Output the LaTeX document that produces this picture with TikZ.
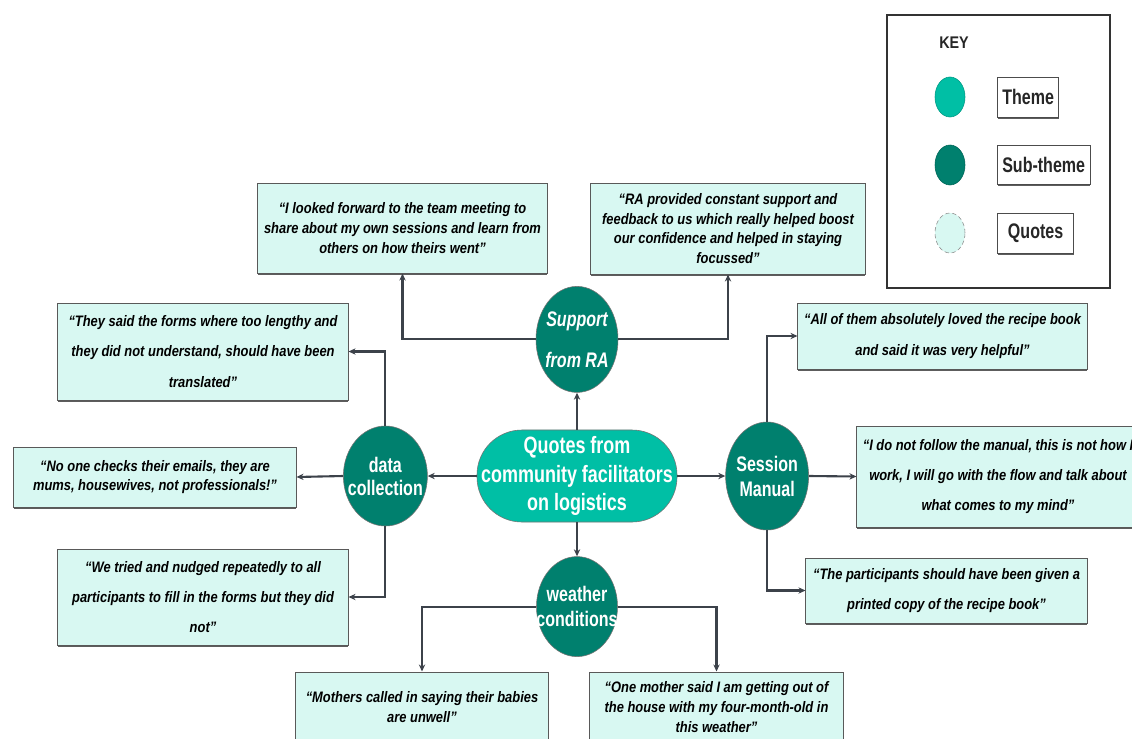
\documentclass[tikz,border=0pt]{standalone}
\usepackage{fontspec}
\setmainfont{Liberation Sans}
\newfontfamily\narrowsans[FakeStretch=0.85]{Liberation Sans}
\newfontfamily\tallsans[FakeStretch=0.76]{Liberation Sans}
\usepackage{tikz}
\usetikzlibrary{arrows.meta, positioning, shadows, shapes.geometric}
\definecolor{themeteal}{RGB}{0,191,165}
\definecolor{subteal}{RGB}{0,128,110}
\definecolor{quotefill}{RGB}{216,248,242}
\definecolor{linkgray}{RGB}{60,66,74}
\newcommand{\zw}[1]{\makebox[0pt]{#1}}

\begin{document}
\begin{tikzpicture}[
        x=0.025cm, y=-0.025cm,
        theme/.style={rectangle, rounded corners=32pt, draw=black!55, fill=themeteal, text=white, minimum width=5cm, minimum height=2.3cm, align=center, font={\tallsans\bfseries\fontsize{16.8}{20}\selectfont}},
        subtheme/.style={ellipse, draw=black!55, fill=subteal, text=white, inner sep=0pt, align=center, font={\tallsans\bfseries\fontsize{15}{17}\selectfont}},
        quote/.style={rectangle, draw=black!65, line width=0.7pt, fill=quotefill, drop shadow={shadow xshift=0.3pt, shadow yshift=-1.1pt, fill=black!70, opacity=0.9}, align=center, inner sep=2pt, font={\narrowsans\bfseries\itshape\fontsize{10.8}{14}\selectfont}},
        loose/.style={font={\narrowsans\bfseries\itshape\fontsize{10.8}{21.5}\selectfont}},
        keylabel/.style={rectangle, draw=black!70, fill=white, drop shadow={shadow xshift=0.3pt, shadow yshift=-1.1pt, fill=black!70, opacity=0.9}, text=black!85, font={\tallsans\bfseries\fontsize{15}{17}\selectfont}},
        swatch/.style={ellipse, minimum width=0.75cm, minimum height=1cm, inner sep=0pt},
        link/.style={-{Stealth[length=5pt, width=4.5pt]}, line width=1.5pt, draw=linkgray}
    ]
        \useasboundingbox (0,0) rectangle (1132,738);
        \fill[white] (0,0) rectangle (1132,738);
        \clip (0,0) rectangle (1132,738);

        \node[theme] (centre) at (577,476) {\zw{Quotes from}\\\zw{community facilitators}\\\zw{on logistics}};
        \node[subtheme, minimum width=2.05cm, minimum height=2.65cm, above=0.925cm of centre, font={\tallsans\bfseries\itshape\fontsize{15}{29}\selectfont}] (support) {\zw{Support}\\\zw{from RA}};
        \node[subtheme, minimum width=2.1cm, minimum height=2.5cm, left=1.225cm of centre, font={\tallsans\bfseries\fontsize{15}{16.4}\selectfont}] (datac) {\zw{data}\\\zw{collection}};
        \node[subtheme, minimum width=2.075cm, minimum height=2.7cm, right=1.2cm of centre, font={\tallsans\bfseries\fontsize{15}{17.8}\selectfont}] (session) {\zw{Session}\\\zw{Manual}};
        \node[subtheme, minimum width=2.025cm, minimum height=2.5cm, below=0.85cm of centre, font={\tallsans\bfseries\fontsize{15}{17.8}\selectfont}] (weather) {\zw{weather}\\\zw{conditions}};

        \node[quote, minimum width=7.225cm, minimum height=2.25cm] (qsa) at (402.5,228) {“I looked forward to the team meeting to\\share about my own sessions and learn from\\others on how theirs went”};
        \node[quote, minimum width=6.85cm, minimum height=2.275cm] (qsb) at (728,228.5) {“RA provided constant support and\\feedback to us which really helped boost\\our confidence and helped in staying\\focussed”};
        \node[quote, loose, minimum width=7.25cm, minimum height=2.425cm] (qda) at (203,351.5) {“They said the forms where too lengthy and\\they did not understand, should have been\\translated”};
        \node[quote, minimum width=7.05cm, minimum height=1.5cm] (qdb) at (155,477) {“No one checks their emails, they are\\mums, housewives, not professionals!”};
        \node[quote, loose, minimum width=7.25cm, minimum height=2.4cm] (qdc) at (203,597) {“We tried and nudged repeatedly to all\\participants to fill in the forms but they did\\not”};
        \node[quote, loose, minimum width=7.225cm, minimum height=1.65cm] (qma) at (942.5,336) {“All of them absolutely loved the recipe book\\and said it was very helpful”};
        \node[quote, loose, minimum width=7.05cm, minimum height=2.525cm] (qmb) at (998,476.5) {“I do not follow the manual, this is not how I\\work, I will go with the flow and talk about\\what comes to my mind”};
        \node[quote, loose, minimum width=7.025cm, minimum height=1.625cm] (qmc) at (946.5,590.5) {“The participants should have been given a\\printed copy of the recipe book”};
        \node[quote, minimum width=6.3cm, minimum height=1.75cm] (qwa) at (422,707) {“Mothers called in saying their babies\\are unwell”};
        \node[quote, minimum width=6.325cm, minimum height=1.75cm] (qwb) at (716.5,707) {“One mother said I am getting out of\\the house with my four-month-old in\\this weather”};

        \draw[link] (centre) -- (support);
        \draw[link] (centre) -- (datac);
        \draw[link] (centre) -- (session);
        \draw[link] (centre) -- (weather);
        \draw[link] (support.west) -| (qsa.south);
        \draw[link] (support.east) -| (qsb.south);
        \draw[link] (datac.north) |- (qda.east);
        \draw[link] (datac.west) -- (qdb.east);
        \draw[link] (datac.south) |- (qdc.east);
        \draw[link] (session.north) |- (qma.west);
        \draw[link] (session.east) -- (qmb.west);
        \draw[link] (session.south) |- (qmc.west);
        \draw[link] (weather.west) -| (qwa.north);
        \draw[link] (weather.east) -| (qwb.north);

        \node[rectangle, draw=black!80, line width=1.3pt, fill=white, drop shadow={shadow xshift=0.3pt, shadow yshift=-1pt, fill=black!60, opacity=0.8}, minimum width=5.575cm, minimum height=6.825cm] (keybox) at (998.5,151.5) {};
        \node[font={\narrowsans\bfseries\fontsize{12}{14}\selectfont}, text=black!85] (keytitle) at (954,43) {KEY};
        \node[swatch, fill=themeteal, draw=themeteal!80!black] (swtheme) at (950,97) {};
        \node[swatch, fill=subteal, draw=subteal!80!black] (swsub) at (950,165) {};
        \node[swatch, fill=quotefill, draw=black!45, densely dashed] (swquote) at (950,233) {};
        \node[keylabel, minimum width=1.525cm, minimum height=1cm, right=0.8cm of swtheme] (ltheme) {Theme};
        \node[keylabel, minimum width=2.275cm, minimum height=0.975cm, right=0.8cm of swsub] (lsub) {Sub-theme};
        \node[keylabel, minimum width=1.9cm, minimum height=1cm, right=0.8cm of swquote] (lquote) {Quotes};
    \end{tikzpicture}
\end{document}
